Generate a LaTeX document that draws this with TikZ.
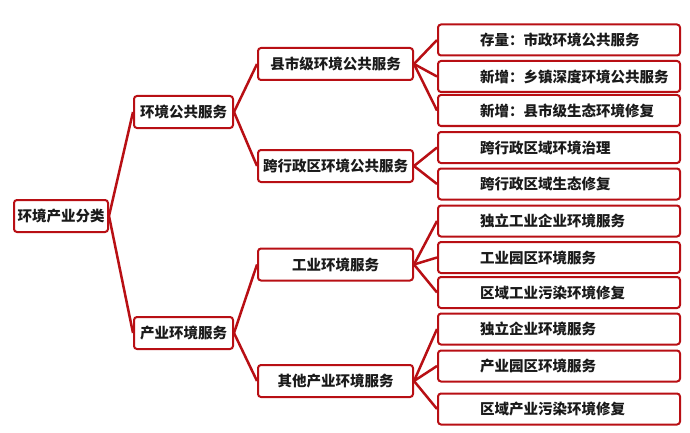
\documentclass[tikz,border=0pt]{standalone}
\usepackage{fontspec}
\newfontfamily\cjk{Noto Sans CJK SC}
\definecolor{boxred}{HTML}{B80F14}
\definecolor{txtgray}{HTML}{1A1A1A}

\begin{document}
\begin{tikzpicture}[x=1pt, y=-1pt,
    box/.style={draw=boxred, line width=2pt, rounded corners=3pt, fill=white,
      font=\cjk\bfseries\fontsize{14.5pt}{16pt}\selectfont, text=txtgray,
      minimum height=32pt, inner sep=0pt},
    leaf/.style={box, minimum height=31pt, text width=238pt, inner xsep=2pt,
      align=left, execute at begin node={\hspace*{40pt}}},
    link/.style={draw=boxred, line width=2.5pt}]
  \useasboundingbox (0,0) rectangle (690,433);

  % 根
  \node[box, minimum width=94pt] (root) at (61,216) {环境产业分类};

  % 第一层
  \node[box, minimum width=99pt] (pub) at (183.5,112) {环境公共服务};
  \node[box, minimum width=99pt] (ind) at (183.5,333) {产业环境服务};

  % 第二层
  \node[box, minimum width=155pt] (county) at (335.5,64)    {县市级环境公共服务};
  \node[box, minimum width=155pt] (cross)  at (335.5,166)   {跨行政区环境公共服务};
  \node[box, minimum width=155pt] (indus)  at (335.5,264.5) {工业环境服务};
  \node[box, minimum width=155pt] (other)  at (335.5,381)   {其他产业环境服务};

  % 第三层
  \node[leaf] (c1) at (559,40)    {存量：市政环境公共服务};
  \node[leaf] (c2) at (559,76.5)  {新增：乡镇深度环境公共服务};
  \node[leaf] (c3) at (559,110.5) {新增：县市级生态环境修复};
  \node[leaf] (x1) at (559,147.5) {跨行政区域环境治理};
  \node[leaf] (x2) at (559,184)   {跨行政区域生态修复};
  \node[leaf] (i1) at (559,221)   {独立工业企业环境服务};
  \node[leaf] (i2) at (559,257.5) {工业园区环境服务};
  \node[leaf] (i3) at (559,292.5) {区域工业污染环境修复};
  \node[leaf] (o1) at (559,329)   {独立企业环境服务};
  \node[leaf] (o2) at (559,366)   {产业园区环境服务};
  \node[leaf] (o3) at (559,409)   {区域产业污染环境修复};

  % 连线
  \foreach \b in {pub,ind} \draw[link] (root.east) -- (\b.west);
  \foreach \b in {county,cross} \draw[link] (pub.east) -- (\b.west);
  \foreach \b in {indus,other} \draw[link] (ind.east) -- (\b.west);
  \foreach \b in {c1,c2,c3} \draw[link] (county.east) -- (\b.west);
  \foreach \b in {x1,x2} \draw[link] (cross.east) -- (\b.west);
  \foreach \b in {i1,i2,i3} \draw[link] (indus.east) -- (\b.west);
  \foreach \b in {o1,o2,o3} \draw[link] (other.east) -- (\b.west);
\end{tikzpicture}
\end{document}
